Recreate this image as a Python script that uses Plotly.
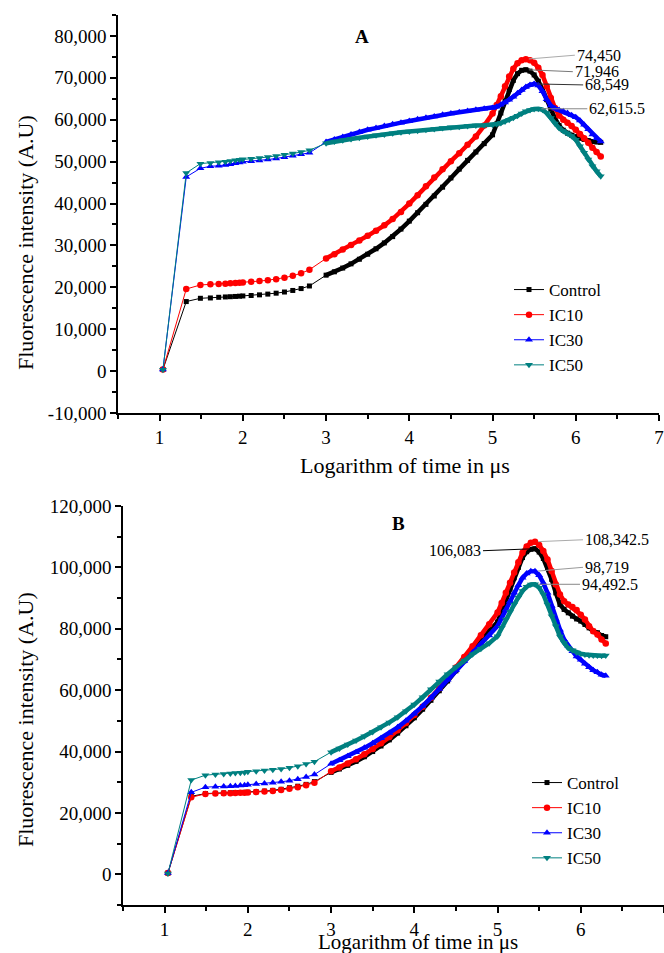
import plotly.graph_objects as go

# ---------------- data ----------------
log_time = [1.04, 1.32, 1.49, 1.61, 1.71, 1.79, 1.85, 1.91, 1.96,
            2.0, 2.1, 2.2, 2.3, 2.4, 2.5, 2.6, 2.7, 2.8,
            3.0, 3.1, 3.2, 3.3, 3.4, 3.5, 3.6, 3.7, 3.8, 3.9, 4.0,
            4.1, 4.2, 4.3, 4.4, 4.5, 4.6, 4.7, 4.8, 4.9, 5.0,
            5.05, 5.1, 5.15, 5.2, 5.25, 5.3, 5.35, 5.4, 5.45, 5.5, 5.55, 5.6, 5.65,
            5.7, 5.75, 5.8, 5.85, 5.9, 5.95, 6.0, 6.05, 6.1, 6.15, 6.2, 6.25, 6.3]

series_names = ["Control", "IC10", "IC30", "IC50"]

# Panel A
A_control = [400, 16600, 17380, 17460, 17620, 17700, 17760, 17820, 17880,
             17940, 18050, 18200, 18380, 18600, 18880, 19250, 19700, 20320,
             22900, 23700, 24600, 25600, 26700, 27900, 29200, 30600, 32100, 33900, 35800,
             37800, 39800, 41800, 43900, 46100, 48200, 50300, 52300, 54300, 56400,
             59000, 61600, 64500, 67200, 69400, 71000, 71800, 71946, 71600, 70700, 69200, 67200, 64800,
             62400, 60300, 58600, 57500, 56800, 56300, 56000, 55600, 55300, 55000, 54800, 54700, 54600]
A_ic10 = [400, 19600, 20560, 20710, 20790, 20880, 20950, 21020, 21080,
          21150, 21300, 21480, 21700, 21950, 22300, 22750, 23350, 24200,
          26900, 27900, 29000, 30100, 31200, 32300, 33500, 34800, 36300, 38000, 40000,
          42000, 44100, 46200, 48200, 50100, 52000, 54000, 56000, 58600, 61500,
          63500, 65600, 68000, 70300, 72200, 73500, 74200, 74450, 74200, 73600, 72400, 70700, 68000,
          65200, 62800, 61000, 60000, 59300, 58500, 57600, 56600, 55600, 54500, 53300, 52300, 51200]
A_ic30 = [400, 46350, 48400, 48900, 49000, 49200, 49400, 49600, 49800,
          49950, 50100, 50280, 50500, 50750, 51050, 51400, 51750, 52100,
          54700, 55300, 55900, 56500, 57100, 57600, 58000, 58500, 58900, 59300, 59700,
          60100, 60500, 60800, 61200, 61500, 61800, 62100, 62400, 62600, 62800,
          63100, 63600, 64100, 64800, 65500, 66300, 67100, 67800, 68300, 68549, 68200, 66800, 64900,
          63400, 62700, 62300, 62000, 61600, 61100, 60600, 59800, 58800, 57700, 56500, 55600, 54800]
A_ic50 = [300, 47300, 49520, 49700, 49850, 50000, 50150, 50300, 50450,
          50550, 50700, 50880, 51100, 51350, 51650, 51950, 52300, 52700,
          54400, 54800, 55100, 55400, 55700, 56000, 56300, 56500, 56800, 57000, 57200,
          57400, 57600, 57800, 58000, 58200, 58350, 58500, 58600, 58700, 58800,
          59000, 59200, 59600, 60000, 60500, 60950, 61500, 62000, 62300, 62550, 62615.5, 62400, 61600,
          60400, 59100, 58000, 57300, 56800, 56100, 55200, 53700, 52100, 50500, 48900, 47700, 46500]

# Panel B
B_control = [400, 25400, 26300, 26400, 26500, 26550, 26600, 26650, 26700,
             26750, 26900, 27100, 27350, 27700, 28200, 28700, 29300, 30200,
             33200, 34300, 35500, 36800, 38300, 40000, 41800, 43800, 46000, 48400, 51000,
             53800, 56700, 59800, 63000, 66300, 69600, 72900, 76300, 79300, 82200,
             85700, 89500, 93000, 96600, 100000, 103200, 105100, 105900, 106083, 105000, 102900, 99900, 96100,
             91700, 87900, 86300, 85200, 84100, 83200, 82500, 81400, 80300, 79200, 78700, 77800, 77400]
B_ic10 = [400, 25100, 26200, 26300, 26400, 26450, 26500, 26550, 26600,
          26650, 26800, 26950, 27150, 27450, 27900, 28400, 29000, 29800,
          33600, 34800, 36100, 37500, 39100, 40800, 42700, 44700, 46900, 49300, 51900,
          54600, 57500, 60600, 63900, 67400, 70800, 74300, 77900, 81500, 85300,
          88400, 91700, 95000, 98300, 101700, 104800, 106800, 108000, 108342.5, 107300, 105350, 102600, 98800,
          94450, 91200, 89000, 87900, 87100, 86100, 84600, 83000, 80800, 79200, 78100, 76500, 75200]
B_ic30 = [400, 26700, 28400, 28500, 28600, 28700, 28800, 28900, 29000,
          29200, 29400, 29600, 29850, 30150, 30500, 31000, 31700, 32500,
          36000, 37200, 38500, 39800, 41200, 42700, 44300, 46000, 47900, 50000, 52300,
          54800, 57500, 60400, 63400, 66500, 69500, 72300, 75000, 77800, 80900,
          83500, 86300, 89000, 91700, 94200, 96600, 98000, 98700, 98719, 97400, 94950, 91700, 87400,
          83000, 79700, 76500, 74300, 72700, 71000, 69900, 68600, 67500, 66500, 65800, 65000, 64700]
B_ic50 = [300, 30700, 32300, 32550, 32700, 32850, 33000, 33100, 33200,
          33400, 33600, 33800, 34050, 34350, 34700, 35200, 35900, 36700,
          39800, 41000, 42300, 43600, 45000, 46400, 47900, 49500, 51200, 53100, 55300,
          57700, 60300, 62800, 65200, 67500, 69700, 71700, 73500, 75300, 77600,
          80300, 83000, 85500, 87900, 90200, 92300, 93700, 94400, 94492.5, 93400, 91200, 87900, 84100,
          80800, 77500, 75400, 73700, 73000, 72300, 71900, 71600, 71400, 71300, 71300, 71200, 71300]

x_ticks = [1, 2, 3, 4, 5, 6, 7]
yA_ticks = [-10000, 0, 10000, 20000, 30000, 40000, 50000, 60000, 70000, 80000]
yB_ticks = [0, 20000, 40000, 60000, 80000, 100000, 120000]

# ---------------- style ----------------
W, H = 664, 953
FONT = "Times New Roman, Liberation Serif, serif"
colors = ["#000000", "#ff0000", "#0000ff", "#008080"]
symbols = ["square", "circle", "triangle-up", "triangle-down"]
msizes = [5, 6.5, 7, 7]


def px(v):
    return v / W


def py(v):
    return 1 - v / H


fig = go.Figure()

band_start = log_time.index(3.0)
panels = [
    dict(data=[A_control, A_ic10, A_ic30, A_ic50], xa="x", ya="y", legend="legend"),
    dict(data=[B_control, B_ic10, B_ic30, B_ic50], xa="x2", ya="y2", legend="legend2"),
]
for p in panels:
    for name, ys, c, s, ms in zip(series_names, p["data"], colors, symbols, msizes):
        fig.add_trace(go.Scatter(
            x=log_time[band_start:], y=ys[band_start:], mode="lines",
            line=dict(color=c, width=4.5), xaxis=p["xa"], yaxis=p["ya"],
            showlegend=False, hoverinfo="skip"))
        fig.add_trace(go.Scatter(
            x=log_time, y=ys, mode="lines+markers", name=name,
            line=dict(color=c, width=1),
            marker=dict(symbol=s, size=ms, color=c, line=dict(width=0)),
            xaxis=p["xa"], yaxis=p["ya"], legend=p["legend"]))

axis_common = dict(showline=True, linecolor="black", linewidth=1.5, ticks="outside",
                   ticklen=6, tickwidth=1.5, tickcolor="black", showgrid=False,
                   zeroline=False, automargin=False,
                   tickfont=dict(family=FONT, size=19, color="black"))


def fmt(v):
    return f"{int(v):,}" if float(v).is_integer() else f"{v:,.1f}"


fig.update_layout(
    template="none",
    width=W, height=H, margin=dict(l=0, r=0, t=0, b=0, pad=0),
    paper_bgcolor="white", plot_bgcolor="white",
    font=dict(family=FONT, color="black"),
    xaxis=dict(domain=[px(118), px(659)], range=[0.5, 7], anchor="y",
               tickvals=x_ticks, ticktext=[str(t) for t in x_ticks],
               minor=dict(tickmode="linear", tick0=0.5, dtick=0.5, ticks="outside",
                          ticklen=4, tickwidth=1.5, tickcolor="black"),
               **axis_common),
    yaxis=dict(domain=[py(413), py(15)], range=[-10000, 85000], anchor="x",
               tickvals=yA_ticks, ticktext=[fmt(t) for t in yA_ticks],
               minor=dict(tickmode="linear", tick0=0, dtick=5000, ticks="outside",
                          ticklen=4, tickwidth=1.5, tickcolor="black"),
               **axis_common),
    xaxis2=dict(domain=[px(123), px(664)], range=[0.5, 7], anchor="y2",
                tickvals=x_ticks, ticktext=[str(t) for t in x_ticks],
                minor=dict(tickmode="linear", tick0=0.5, dtick=0.5, ticks="outside",
                           ticklen=4, tickwidth=1.5, tickcolor="black"),
                **axis_common),
    yaxis2=dict(domain=[py(905), py(506)], range=[-10000, 120000], anchor="x2",
                tickvals=yB_ticks, ticktext=[fmt(t) for t in yB_ticks],
                minor=dict(tickmode="linear", tick0=0, dtick=10000, ticks="outside",
                           ticklen=4, tickwidth=1.5, tickcolor="black"),
                **axis_common),
    legend=dict(x=px(509), y=py(272), xanchor="left", yanchor="top",
                font=dict(family=FONT, size=17, color="black"),
                bgcolor="rgba(0,0,0,0)", borderwidth=0, tracegroupgap=0),
    legend2=dict(x=px(527), y=py(765), xanchor="left", yanchor="top",
                 font=dict(family=FONT, size=17, color="black"),
                 bgcolor="rgba(0,0,0,0)", borderwidth=0, tracegroupgap=0),
    showlegend=True,
)

annotations = []
# panel letters
annotations.append(dict(text="<b>A</b>", x=px(362), y=py(36), xref="paper", yref="paper",
                        xanchor="center", yanchor="middle",
                        showarrow=False, font=dict(family=FONT, size=19)))
annotations.append(dict(text="<b>B</b>", x=px(398), y=py(523), xref="paper", yref="paper",
                        xanchor="center", yanchor="middle",
                        showarrow=False, font=dict(family=FONT, size=19)))
# axis titles
for (xc, yc, fs) in [(405, 466, 22), (418, 942, 21)]:
    annotations.append(dict(text="Logarithm of time in μs", x=px(xc), y=py(yc),
                            xref="paper", yref="paper", showarrow=False,
                            xanchor="center", yanchor="middle",
                            font=dict(family=FONT, size=fs)))
for yc in [243, 720]:
    annotations.append(dict(text="Fluorescence intensity (A.U)", x=px(25), y=py(yc),
                            xref="paper", yref="paper", showarrow=False, textangle=-90,
                            xanchor="center", yanchor="middle",
                            font=dict(family=FONT, size=22)))

# peak value labels
label_offsets = {
    "A": [(47, 2, "#777777", "left"), (49, -4, "#aaaaaa", "left"),
          (49, 1, "#333333", "left"), (49, 0, "#888888", "left")],
    "B": [(-52, 2, "#000000", "right"), (48, -2, "#aaaaaa", "left"),
          (48, -4, "#999999", "left"), (45, 0, "#888888", "left")],
}
for key, p in zip(["A", "B"], panels):
    for ys, (ax, ay, ac, anc) in zip(p["data"], label_offsets[key]):
        vmax = max(ys)
        xm = log_time[ys.index(vmax)]
        annotations.append(dict(
            x=xm, y=vmax, xref=p["xa"], yref=p["ya"], text=fmt(vmax),
            showarrow=True, arrowhead=0, arrowwidth=1, arrowcolor=ac,
            ax=ax, ay=ay, xanchor=anc, yanchor="middle", standoff=3,
            font=dict(family=FONT, size=16, color="black")))

fig.update_layout(annotations=annotations)

fig.write_html("out.html", config={"displayModeBar": False},
               post_script="document.body.style.margin='0';")
